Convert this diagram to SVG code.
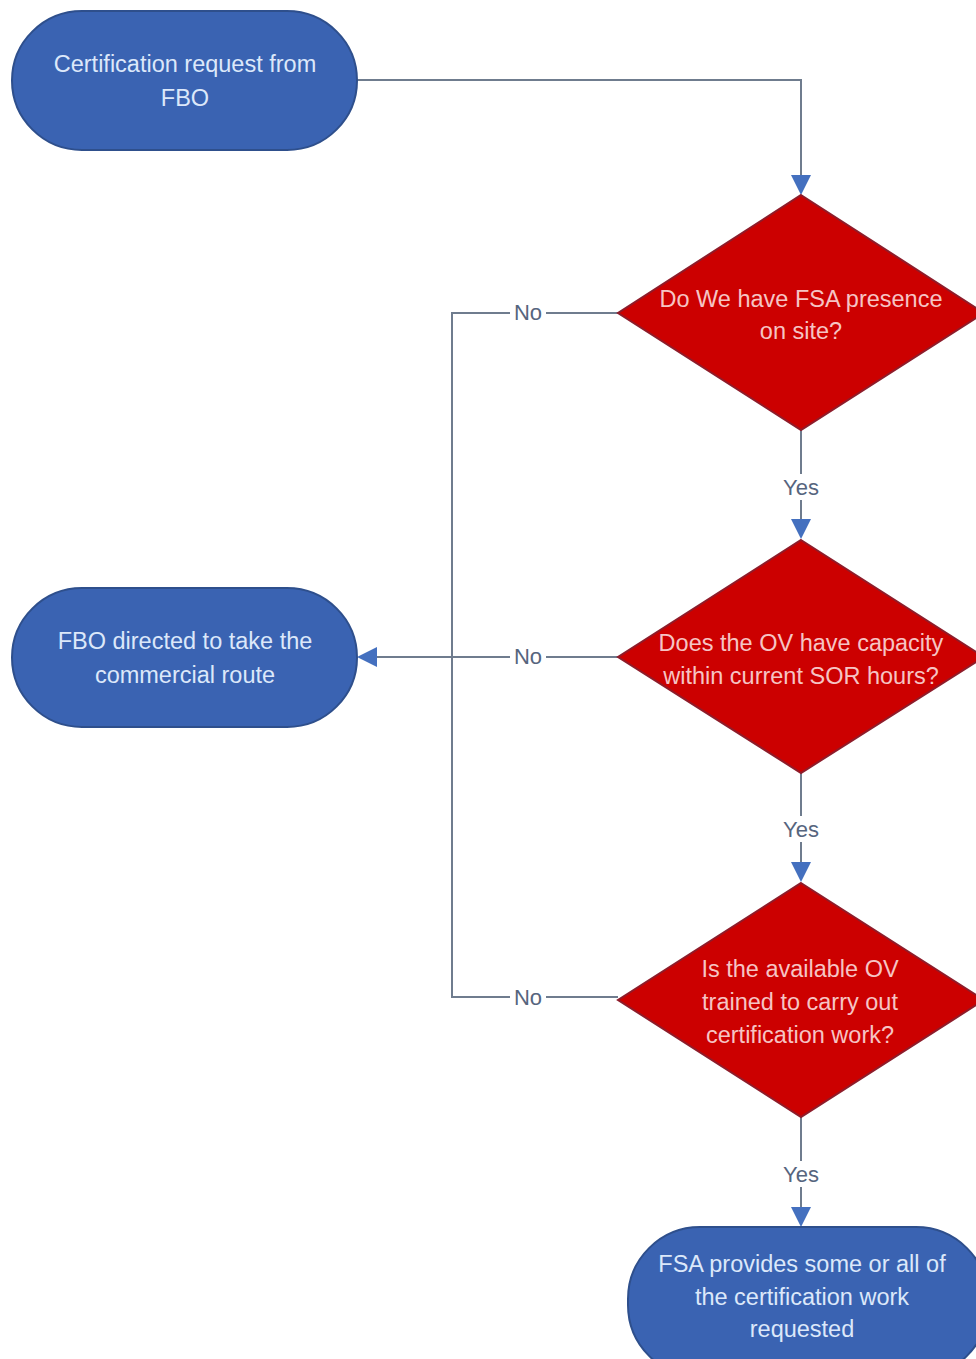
<svg xmlns="http://www.w3.org/2000/svg" width="976" height="1359" viewBox="0 0 976 1359">
<defs>
<style>
.term{fill:#3A63B2;stroke:#2E4F8C;stroke-width:2}
.dec{fill:#CC0000;stroke:#8E1C2A;stroke-width:2}
.tt{font-family:"Liberation Sans",Arial,sans-serif;font-size:23.5px;fill:#DCE8FA;text-anchor:middle}
.dt{font-family:"Liberation Sans",Arial,sans-serif;font-size:23.5px;fill:#F6C4C4;text-anchor:middle}
.conn{fill:none;stroke:#6F7C8E;stroke-width:2}
.lbl{font-family:"Liberation Sans",Arial,sans-serif;font-size:22px;fill:#56657E;text-anchor:middle}
.lb{fill:#FFFFFF}
</style>
<marker id="arrB" viewBox="0 0 10 10" refX="9" refY="5" markerWidth="20" markerHeight="20" markerUnits="userSpaceOnUse" orient="auto">
<path d="M0,0 L10,5 L0,10 z" fill="#4470BF"/>
</marker>
</defs>
<rect width="976" height="1359" fill="#FFFFFF"/>
<g id="connectors">
<path class="conn" d="M357,80 H801 V193" marker-end="url(#arrB)"/>
<path class="conn" d="M801,430 V537" marker-end="url(#arrB)"/>
<path class="conn" d="M801,773 V880" marker-end="url(#arrB)"/>
<path class="conn" d="M801,1117 V1225" marker-end="url(#arrB)"/>
<path class="conn" d="M618,657 H359" marker-end="url(#arrB)"/>
<path class="conn" d="M618,313 H452 V997 H618"/>
<rect class="lb" x="510" y="300" width="36" height="24"/>
<text class="lbl" x="528" y="320">No</text>
<rect class="lb" x="510" y="645" width="36" height="24"/>
<text class="lbl" x="528" y="664">No</text>
<rect class="lb" x="510" y="985" width="36" height="24"/>
<text class="lbl" x="528" y="1005">No</text>
<rect class="lb" x="779" y="474" width="44" height="26"/>
<text class="lbl" x="801" y="495">Yes</text>
<rect class="lb" x="779" y="816" width="44" height="26"/>
<text class="lbl" x="801" y="837">Yes</text>
<rect class="lb" x="779" y="1161" width="44" height="26"/>
<text class="lbl" x="801" y="1182">Yes</text>
</g>
<g id="start">
<rect class="term" x="12" y="11" width="345" height="139" rx="70" ry="69.5"/>
<text class="tt" x="185" y="72">Certification request from</text>
<text class="tt" x="185" y="106">FBO</text>
</g>
<g id="commercial">
<rect class="term" x="12" y="588" width="345" height="139" rx="70" ry="69.5"/>
<text class="tt" x="185" y="649">FBO directed to take the</text>
<text class="tt" x="185" y="683">commercial route</text>
</g>
<g id="d1">
<polygon class="dec" points="801,195 984,313 801,430 618,313"/>
<text class="dt" x="801" y="307">Do We have FSA presence</text>
<text class="dt" x="801" y="339">on site?</text>
</g>
<g id="d2">
<polygon class="dec" points="801,540 984,657 801,773 618,657"/>
<text class="dt" x="801" y="651">Does the OV have capacity</text>
<text class="dt" x="801" y="684">within current SOR hours?</text>
</g>
<g id="d3">
<polygon class="dec" points="801,883 984,1000 801,1117 618,1000"/>
<text class="dt" x="800" y="977">Is the available OV</text>
<text class="dt" x="800" y="1010">trained to carry out</text>
<text class="dt" x="800" y="1043">certification work?</text>
</g>
<g id="provide">
<rect class="term" x="628" y="1227" width="360" height="150" rx="72" ry="72"/>
<text class="tt" x="802" y="1272">FSA provides some or all of</text>
<text class="tt" x="802" y="1305">the certification work</text>
<text class="tt" x="802" y="1337">requested</text>
</g>
</svg>
